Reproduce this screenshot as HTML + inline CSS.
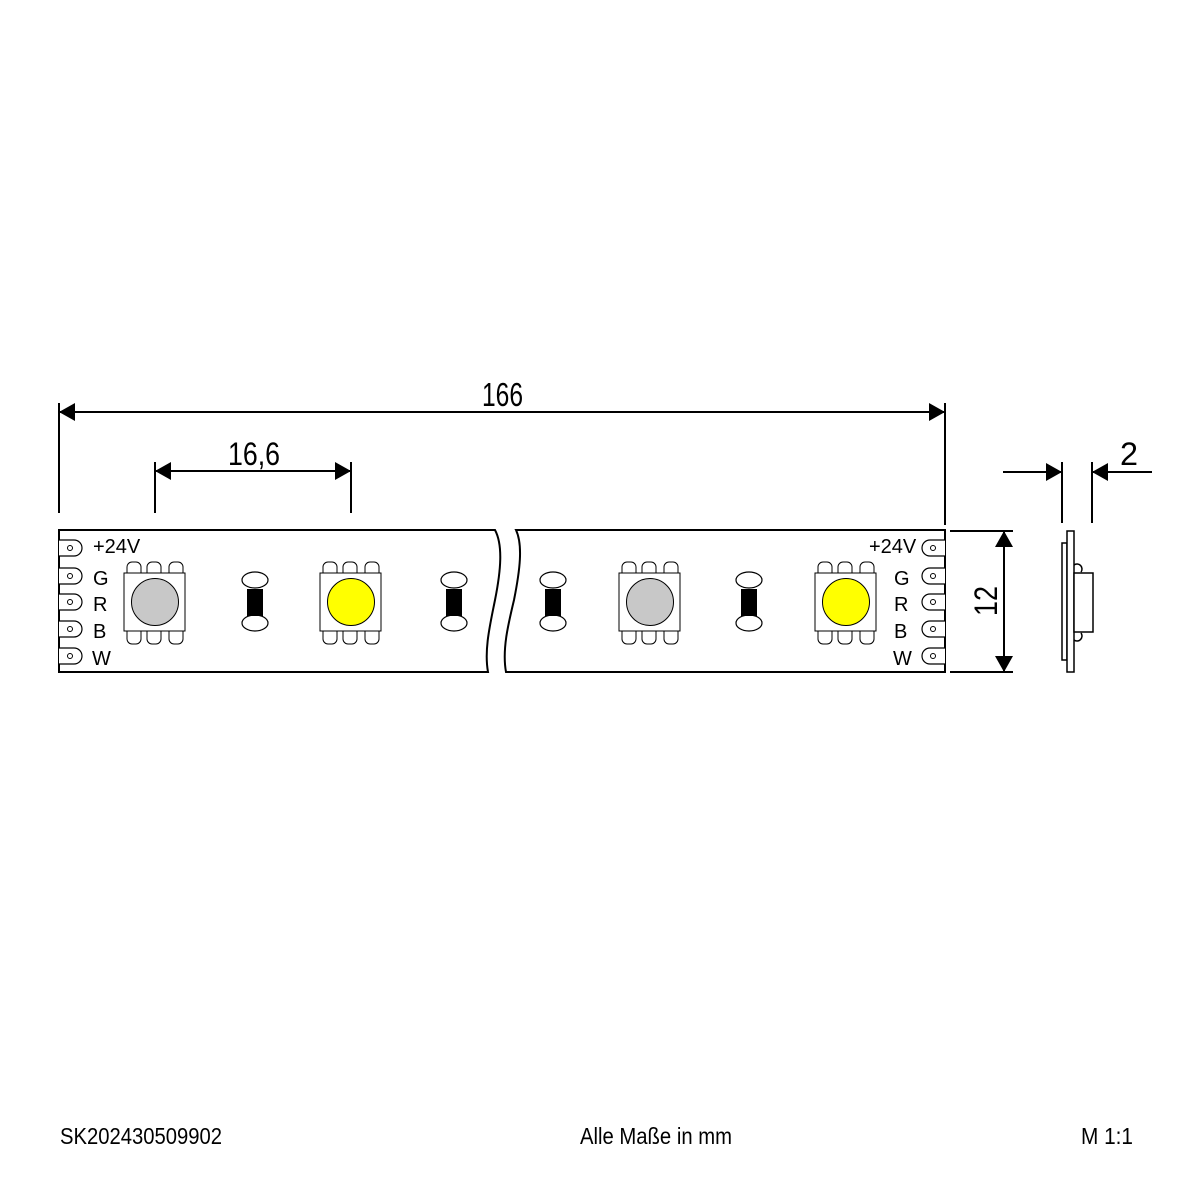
<!DOCTYPE html>
<html><head><meta charset="utf-8"><style>
html,body{margin:0;padding:0;background:#fff;}
svg{display:block;}
text{font-family:"Liberation Sans",sans-serif;fill:#000;}
</style></head><body>
<svg width="1181" height="1181" viewBox="0 0 1181 1181" xmlns="http://www.w3.org/2000/svg">
<defs>
<g id="padL">
  <path d="M59,-8 H74 A8,8 0 0 1 74,8 H59" fill="#fff" stroke="#000" stroke-width="1.2"/>
  <circle cx="70" cy="0" r="2.5" fill="none" stroke="#000" stroke-width="1"/>
</g>
<g id="padR">
  <path d="M945,-8 H930 A8,8 0 0 0 930,8 H945" fill="#fff" stroke="#000" stroke-width="1.2"/>
  <circle cx="933" cy="0" r="2.5" fill="none" stroke="#000" stroke-width="1"/>
</g>
<g id="res">
  <ellipse cx="0" cy="580" rx="13" ry="8" fill="#fff" stroke="#000" stroke-width="1.2"/>
  <ellipse cx="0" cy="623" rx="13" ry="8" fill="#fff" stroke="#000" stroke-width="1.2"/>
  <rect x="-8" y="589" width="16" height="27" fill="#000"/>
</g>
<g id="ledbody">
  <path d="M-28,573 V567 A5,5 0 0 1 -23,562 H-19 A5,5 0 0 1 -14,567 V573" fill="#fff" stroke="#000" stroke-width="1"/>
  <path d="M-8,573 V567 A5,5 0 0 1 -3,562 H1 A5,5 0 0 1 6,567 V573" fill="#fff" stroke="#000" stroke-width="1"/>
  <path d="M14,573 V567 A5,5 0 0 1 19,562 H23 A5,5 0 0 1 28,567 V573" fill="#fff" stroke="#000" stroke-width="1"/>
  <path d="M-28,631 V639 A5,5 0 0 0 -23,644 H-19 A5,5 0 0 0 -14,639 V631" fill="#fff" stroke="#000" stroke-width="1"/>
  <path d="M-8,631 V639 A5,5 0 0 0 -3,644 H1 A5,5 0 0 0 6,639 V631" fill="#fff" stroke="#000" stroke-width="1"/>
  <path d="M14,631 V639 A5,5 0 0 0 19,644 H23 A5,5 0 0 0 28,639 V631" fill="#fff" stroke="#000" stroke-width="1"/>
  <rect x="-31" y="573" width="61" height="58" fill="#fff" stroke="#000" stroke-width="1"/>
</g>
<marker id="a" viewBox="0 0 16 18" refX="16" refY="9" markerWidth="16" markerHeight="18" markerUnits="userSpaceOnUse" orient="auto"><path d="M0,0 L16,9 L0,18Z" fill="#000"/></marker>
<marker id="b" viewBox="0 0 16 18" refX="0" refY="9" markerWidth="16" markerHeight="18" markerUnits="userSpaceOnUse" orient="auto"><path d="M16,0 L0,9 L16,18Z" fill="#000"/></marker>
</defs>

<!-- strip segments -->
<path d="M59,530 H495 C503,545 501,570 495,600 C490,625 484,650 488,672 H59 Z" fill="#fff" stroke="#000" stroke-width="2"/>
<path d="M945,530 H516 C523,545 520,570 514,600 C508,625 502,650 506,672 H945 Z" fill="#fff" stroke="#000" stroke-width="2"/>

<g transform="translate(0,548)"><use href="#padL"/></g>
<g transform="translate(0,576)"><use href="#padL"/></g>
<g transform="translate(0,602)"><use href="#padL"/></g>
<g transform="translate(0,629)"><use href="#padL"/></g>
<g transform="translate(0,656)"><use href="#padL"/></g>
<g transform="translate(0,548)"><use href="#padR"/></g>
<g transform="translate(0,576)"><use href="#padR"/></g>
<g transform="translate(0,602)"><use href="#padR"/></g>
<g transform="translate(0,629)"><use href="#padR"/></g>
<g transform="translate(0,656)"><use href="#padR"/></g>

<g font-size="20">
<text x="93" y="553">+24V</text>
<text x="93" y="585">G</text>
<text x="93" y="611">R</text>
<text x="93" y="638">B</text>
<text x="92" y="665">W</text>
<text x="869" y="553">+24V</text>
<text x="894" y="585">G</text>
<text x="894" y="611">R</text>
<text x="894" y="638">B</text>
<text x="893" y="665">W</text>
</g>

<g transform="translate(155,0)"><use href="#ledbody"/></g>
<circle cx="155" cy="602" r="23.5" fill="#c8c8c8" stroke="#000" stroke-width="1"/>
<g transform="translate(351,0)"><use href="#ledbody"/></g>
<circle cx="351" cy="602" r="23.5" fill="#ffff00" stroke="#000" stroke-width="1"/>
<g transform="translate(650,0)"><use href="#ledbody"/></g>
<circle cx="650" cy="602" r="23.5" fill="#c8c8c8" stroke="#000" stroke-width="1"/>
<g transform="translate(846,0)"><use href="#ledbody"/></g>
<circle cx="846" cy="602" r="23.5" fill="#ffff00" stroke="#000" stroke-width="1"/>

<g transform="translate(255,0)"><use href="#res"/></g>
<g transform="translate(454,0)"><use href="#res"/></g>
<g transform="translate(553,0)"><use href="#res"/></g>
<g transform="translate(749,0)"><use href="#res"/></g>

<!-- dimension 166 -->
<g stroke="#000" stroke-width="2">
<line x1="59" y1="403" x2="59" y2="513"/>
<line x1="945" y1="403" x2="945" y2="525"/>
<line x1="59" y1="412" x2="945" y2="412" marker-start="url(#b)" marker-end="url(#a)"/>
<line x1="155" y1="462" x2="155" y2="513"/>
<line x1="351" y1="462" x2="351" y2="513"/>
<line x1="155" y1="471" x2="351" y2="471" marker-start="url(#b)" marker-end="url(#a)"/>
<!-- 12 -->
<line x1="950" y1="531" x2="1013" y2="531"/>
<line x1="950" y1="672" x2="1013" y2="672"/>
<line x1="1004" y1="531" x2="1004" y2="672" marker-start="url(#b)" marker-end="url(#a)"/>
<!-- 2 -->
<line x1="1062" y1="462" x2="1062" y2="523"/>
<line x1="1092" y1="462" x2="1092" y2="523"/>
<line x1="1003" y1="472" x2="1062" y2="472" marker-end="url(#a)"/>
<line x1="1152" y1="472" x2="1092" y2="472" marker-end="url(#a)"/>
</g>
<text x="482" y="406" font-size="33" textLength="41" lengthAdjust="spacingAndGlyphs">166</text>
<text x="228" y="465" font-size="32" textLength="52" lengthAdjust="spacingAndGlyphs">16,6</text>
<text x="1120" y="465" font-size="32" textLength="18" lengthAdjust="spacingAndGlyphs">2</text>
<text transform="translate(997,616) rotate(-90)" font-size="32" textLength="30" lengthAdjust="spacingAndGlyphs">12</text>

<!-- side profile -->
<g fill="#fff" stroke="#000" stroke-width="1.5">
<rect x="1062" y="543" width="5" height="117"/>
<rect x="1067" y="531" width="7" height="141"/>
<path d="M1074,565 A5,5 0 0 1 1081,572" fill="none"/>
<path d="M1074,640 A5,5 0 0 0 1081,633" fill="none"/>
<rect x="1074" y="573" width="19" height="59"/>
</g>

<!-- footer -->
<text x="60" y="1144" font-size="23" textLength="162" lengthAdjust="spacingAndGlyphs">SK202430509902</text>
<text x="580" y="1144" font-size="23" textLength="152" lengthAdjust="spacingAndGlyphs">Alle Maße in mm</text>
<text x="1081" y="1144" font-size="23" textLength="52" lengthAdjust="spacingAndGlyphs">M 1:1</text>
</svg>
</body></html>
